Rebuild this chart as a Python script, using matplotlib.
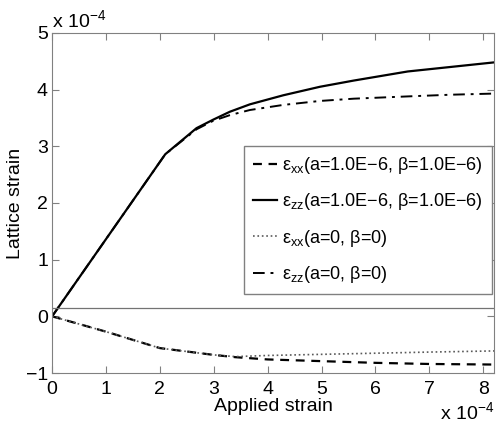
import numpy as np
import matplotlib
matplotlib.use("Agg")
import matplotlib.pyplot as plt

plt.rcParams['font.family'] = ['Liberation Sans', 'DejaVu Sans']
plt.rcParams['mathtext.fontset'] = 'custom'
plt.rcParams['mathtext.rm'] = 'Liberation Sans'
plt.rcParams['mathtext.it'] = 'Liberation Sans'

# applied strain (x 10^-4)
x_zz = [0, 2.1, 2.68, 2.99, 3.3, 3.67, 4.29, 4.97, 5.6, 6.6, 7.4, 8.2]
zz_a1 = [0, 2.86, 3.32, 3.47, 3.61, 3.74, 3.90, 4.05, 4.16, 4.32, 4.40, 4.48]
zz_a0 = [0, 2.86, 3.30, 3.45, 3.55, 3.64, 3.73, 3.80, 3.84, 3.88, 3.91, 3.93]

x_xx = [0, 1.0, 2.0, 3.0, 3.4, 4.0, 5.0, 6.0, 7.0, 8.2]
xx_a1 = [0, -0.27, -0.56, -0.68, -0.72, -0.76, -0.79, -0.82, -0.84, -0.85]
xx_a0 = [0, -0.27, -0.56, -0.68, -0.71, -0.69, -0.67, -0.65, -0.63, -0.61]

labels = [r'$\epsilon_{xx}$(a=1.0E$-$6, $\beta$=1.0E$-$6)',
          r'$\epsilon_{zz}$(a=1.0E$-$6, $\beta$=1.0E$-$6)',
          r'$\epsilon_{xx}$(a=0, $\beta$=0)',
          r'$\epsilon_{zz}$(a=0, $\beta$=0)']

fig = plt.figure(figsize=(4.96, 4.22), dpi=100)
ax = fig.add_axes([0.105, 0.116, 0.891, 0.806])

ax.plot(x_xx, xx_a1, 'k--', lw=1.6, label=labels[0], dashes=(4, 3))
ax.plot(x_zz, zz_a1, 'k-', lw=1.6, label=labels[1])
ax.plot(x_xx, xx_a0, color='0.35', ls=':', lw=1.2, label=labels[2])
ax.plot(x_zz, zz_a0, 'k-.', lw=1.4, label=labels[3], dashes=(6, 3, 1.5, 3))
ax.axhline(0.15, color='0.45', lw=0.9)

ax.set_xlim(0, 8.2)
ax.set_ylim(-1, 5)
ax.set_xticks(range(0, 9))
ax.set_yticks(range(-1, 6))
ax.tick_params(direction='in', top=True, right=True, labelsize=14,
               length=5, color='0.5')
ax.tick_params(axis='x', pad=6)
ax.tick_params(axis='y', pad=3)
for s in ax.spines.values():
    s.set_color('0.5')

ax.set_xlabel('Applied strain', fontsize=14, labelpad=0)
ax.set_ylabel('Lattice strain', fontsize=14, labelpad=1)
ax.text(0.0, 1.005, r'x 10$^{-4}$', transform=ax.transAxes, fontsize=14,
        ha='left', va='bottom')
ax.text(1.0, -0.082, r'x 10$^{-4}$', transform=ax.transAxes, fontsize=14,
        ha='right', va='top')

leg = ax.legend(loc='upper left', bbox_to_anchor=(0.435, 0.668), fontsize=13,
                fancybox=False, edgecolor='0.5', framealpha=1,
                handlelength=1.3, handletextpad=0.3, borderpad=0.5,
                labelspacing=0.85, borderaxespad=0)
leg.get_frame().set_linewidth(1.0)

fig.savefig('out.png', dpi=100)
